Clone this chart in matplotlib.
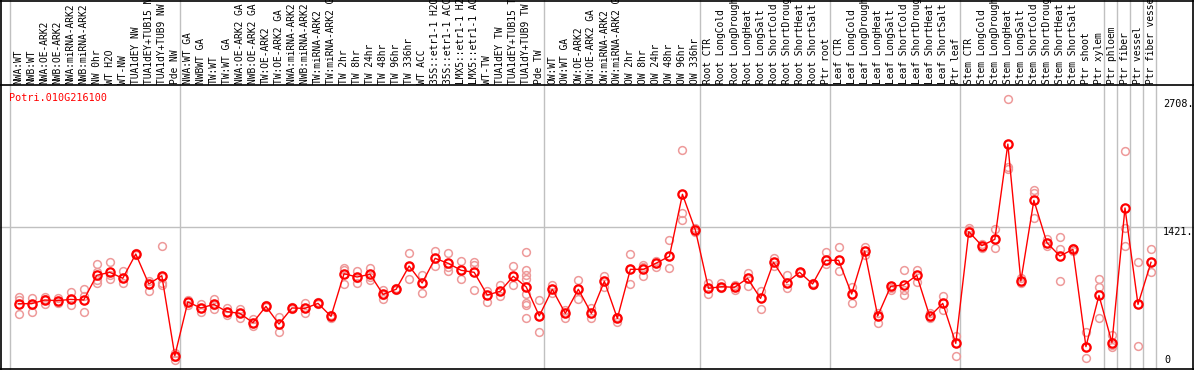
import matplotlib
matplotlib.use('Agg')
import matplotlib.pyplot as plt
from matplotlib.lines import Line2D
from matplotlib import transforms

W, H = 1194, 370

gene = 'Potri.010G216100'
y_max_label = 2708
y_mid_label = 1421

labels = [
    'NWA:WT', 'NWB:WT', 'NWA:OE-ARK2', 'NWB:OE-ARK2', 'NWA:miRNA-ARK2', 'NWB:miRNA-ARK2',
    'NW 0hr', 'WT H2O', 'WT-NW', 'TUA1dEY NW', 'TUA1dEY+TUB15 NW', 'TUA1dY+TUB9 NW', 'Pde NW',
    'NWA:WT GA', 'NWBWT GA', 'TW:WT', 'TW:WT GA', 'NWA:OE-ARK2 GA', 'NWB:OE-ARK2 GA',
    'TW:OE-ARK2', 'TW:OE-ARK2 GA', 'NWA:miRNA-ARK2 GA', 'NWB:miRNA-ARK2 GA', 'TW:miRNA-ARK2',
    'TW:miRNA-ARK2 GA', 'TW 2hr', 'TW 8hr', 'TW 24hr', 'TW 48hr', 'TW 96hr', 'TW 336hr',
    'WT ACC', '35S::etr1-1 H2O', '35S::etr1-1 ACC', 'LMX5::etr1-1 H2O', 'LMX5::etr1-1 ACC',
    'WT-TW', 'TUA1dEY TW', 'TUA1dEY+TUB15 TW', 'TUA1dY+TUB9 TW', 'Pde TW',
    'OW:WT', 'OW:WT GA', 'OW:OE-ARK2', 'OW:OE-ARK2 GA', 'OW:miRNA-ARK2', 'OW:miRNA-ARK2 GA',
    'OW 2hr', 'OW 8hr', 'OW 24hr', 'OW 48hr', 'OW 96hr', 'OW 336hr',
    'Root CTR', 'Root LongCold', 'Root LongDrought', 'Root LongHeat', 'Root LongSalt',
    'Root ShortCold', 'Root ShortDrought', 'Root ShortHeat', 'Root ShortSalt', 'Ptr root',
    'Leaf CTR', 'Leaf LongCold', 'Leaf LongDrought', 'Leaf LongHeat', 'Leaf LongSalt',
    'Leaf ShortCold', 'Leaf ShortDrought', 'Leaf ShortHeat', 'Leaf ShortSalt', 'Ptr leaf',
    'Stem CTR', 'Stem LongCold', 'Stem LongDrought', 'Stem LongHeat', 'Stem LongSalt',
    'Stem ShortCold', 'Stem ShortDrought', 'Stem ShortHeat', 'Stem ShortSalt',
    'Ptr shoot', 'Ptr xylem', 'Ptr phloem', 'Ptr fiber', 'Ptr vessel', 'Ptr fiber vessel',
]

# first column of each sample group
group_starts = [0, 13, 41, 53, 63, 73, 84, 85, 86, 87]

means = [
    654, 654, 691, 684, 697, 691, 938, 968, 908, 1151, 851, 934, 133,
    671, 611, 647, 574, 557, 464, 627, 450, 611, 607, 657, 527, 954, 921, 948, 747,
    798, 1031, 861, 1108, 1058, 988, 968, 741, 778, 928, 821, 531,
    798, 557, 798, 557, 878, 507, 998, 998, 1061, 1128, 1749, 1388,
    808, 824, 818, 908, 707, 1068, 864, 968, 851, 1088,
    1088, 751, 1181, 531, 828, 841, 938, 527, 657, 257,
    1375, 1235, 1298, 2252, 881, 1689, 1265, 1131, 1198, 224, 737,
    264, 1612, 647, 1068,
]

replicates = [
    [717, 691, 551], [711, 641, 574], [724, 697, 647], [707, 684, 664], [771, 697, 637],
    [798, 731, 567], [1051, 974, 891, 864], [1068, 941, 904], [978, 908, 864],
    [1165, 1151, 1138], [884, 848, 784], [1231, 924, 864, 841], [157, 123, 90],
    [691, 671, 641], [654, 607, 574], [697, 641, 601], [611, 574, 541], [604, 557, 507],
    [497, 464, 430], [641, 627, 617], [517, 450, 367], [624, 611, 597], [657, 607, 557],
    [667, 657, 647], [537, 527, 514], [1011, 991, 848], [978, 908, 858], [1011, 924, 891],
    [791, 741, 701], [808, 798, 788], [1158, 1031, 898], [941, 861, 758], [1178, 1108, 1034],
    [1158, 1024, 981], [1078, 988, 904], [1071, 1044, 788], [784, 741, 674], [841, 778, 734],
    [1031, 928, 844], [1168, 988, 938, 904, 818, 754, 657, 637, 507], [687, 531, 367],
    [841, 798, 758], [591, 557, 507], [888, 798, 697], [607, 557, 514], [931, 878, 824],
    [524, 507, 474], [1151, 998, 848], [1044, 1024, 934], [1085, 1061, 1024],
    [1288, 1128, 1008], [2189, 1749, 1558, 1488], [1408, 1388, 1375],
    [858, 808, 754], [858, 824, 808], [841, 818, 788], [961, 908, 828], [781, 707, 601],
    [1108, 1068, 1034], [941, 864, 814], [974, 968, 958], [864, 851, 838], [1168, 1088, 1048],
    [1221, 1088, 978], [824, 751, 657], [1218, 1181, 1141], [564, 531, 457], [828, 808, 791],
    [988, 791, 737], [988, 938, 874], [557, 527, 514], [727, 657, 587], [330, 257, 127],
    [1415, 1392, 1375], [1251, 1235, 1208], [1402, 1298, 1208], [2708, 2252, 2026, 1999],
    [908, 881, 864], [1792, 1759, 1515], [1305, 1265, 1231], [1318, 1198, 881],
    [1211, 1198, 1185], [374, 224, 110], [898, 818, 507], [340, 240, 217],
    [2179, 1408, 1228], [1075, 647, 227], [1198, 1068, 968],
]

fig = plt.figure(figsize=(W / 100, H / 100), dpi=100)
ax = fig.add_axes([10.3 / W, 1 / H, 1145.4 / W, 284 / H])
ax.set_xlim(-0.64, len(labels) - 0.64)
ax.set_ylim(0, y_max_label * 1.05)
ax.axis('off')

mono = 'DejaVu Sans Mono'
grey = '#c0c0c0'

# grid / separators
fy = transforms.blended_transform_factory(fig.transFigure, ax.transData)
ax.plot([0, 1], [y_mid_label + 0.7] * 2, color=grey, lw=1, transform=fy, clip_on=False, zorder=1)
dx = transforms.blended_transform_factory(ax.transData, fig.transFigure)
for g in group_starts + [len(labels)]:
    ax.plot([g - 0.64] * 2, [1 / H, 1], color=grey, lw=1, transform=dx, clip_on=False, zorder=1)

# frame
for xs, ys in [([1 / W, 1 / W], [0, 1]), ([1193 / W, 1193 / W], [0, 1]),
               ([0, 1], [1 / H, 1 / H]), ([0, 1], [(H - 85) / H] * 2),
               ([0, 1], [1 - 0.5 / H] * 2)]:
    fig.add_artist(Line2D(xs, ys, color='black', lw=1.2))

# replicates
for i, reps in enumerate(replicates):
    ax.plot([i] * len(reps), reps, 'o', mfc='none', mec='#ee9a9a', ms=5.6, mew=1.1,
            clip_on=False, zorder=2)

ax.plot(range(len(means)), means, '-', color='red', lw=1, zorder=3, clip_on=False)
ax.plot(range(len(means)), means, 'o', mfc='none', mec='red', ms=6, mew=1.6,
        zorder=4, clip_on=False)

# column labels
for i, lab in enumerate(labels):
    ax.text(i, (H - 83.5) / H, lab, transform=dx, rotation=90, ha='center', va='bottom',
            fontsize=6.9, family=mono, color='black', clip_on=False)

fig.text(9.3 / W, (H - 97.7) / H, gene, color='red', fontsize=7.3, family=mono,
         ha='left', va='center')

# value labels on the right
xr = transforms.blended_transform_factory(fig.transFigure, ax.transData)
ax.text(1163 / W, y_max_label, f'{y_max_label}.', transform=xr, va='top', ha='left',
        fontsize=7.3, family=mono)
ax.text(1163 / W, y_max_label * 1.05 / 2, f'{y_mid_label}.', transform=xr, va='top', ha='left',
        fontsize=7.3, family=mono)
ax.text(1164 / W, 40, '0', transform=xr, va='bottom', ha='left', fontsize=7.3, family=mono)

fig.savefig('out.png', dpi=100)
